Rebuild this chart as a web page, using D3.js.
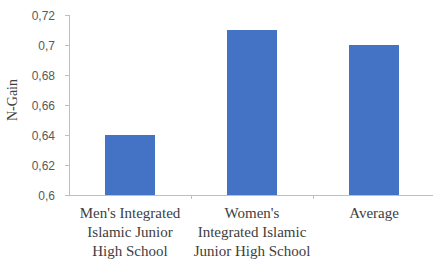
<!DOCTYPE html>
<html>
<head>
<meta charset="utf-8">
<script src="https://cdn.jsdelivr.net/npm/d3@7"></script>
<style>
	body { margin: 0; background: #fff; }
	.tickLabel { font-family: "Liberation Sans", Arial, sans-serif; font-size: 12px; fill: #595959; }
	.catLabel { font-family: "Liberation Serif", "Times New Roman", serif; font-size: 15px; fill: #404040; }
	.axisTitle { font-family: "Liberation Serif", "Times New Roman", serif; font-size: 14px; fill: #404040; }
</style>
</head>
<body>
<script>
//chart data
var categories = ["Men's Integrated Islamic Junior High School", "Women's Integrated Islamic Junior High School", "Average"];
var catLines = [["Men's Integrated", "Islamic Junior", "High School"], ["Women's", "Integrated Islamic", "Junior High School"], ["Average"]];
var nGain = [0.64, 0.71, 0.70];
var yTicks = [0.6, 0.62, 0.64, 0.66, 0.68, 0.7, 0.72];
var yTickLabels = ["0,6", "0,62", "0,64", "0,66", "0,68", "0,7", "0,72"];

//frame
var width = 433,
	height = 260,
	plotLeft = 69,
	plotRight = 435,
	plotTop = 15,
	plotBottom = 195;

var svg = d3.select("body")
	.append("svg")
	.attr("width", width)
	.attr("height", height);

var x = d3.scaleBand()
	.domain(categories)
	.range([plotLeft, plotRight])
	.paddingInner(0.59)
	.paddingOuter(0.295);

var y = d3.scaleLinear()
	.domain([0.6, 0.72])
	.range([plotBottom, plotTop]);

//bars
svg.selectAll(".bar")
	.data(nGain)
	.enter()
	.append("rect")
	.attr("class", "bar")
	.attr("x", function(d, i){ return x(categories[i]); })
	.attr("width", x.bandwidth())
	.attr("y", function(d){ return y(d); })
	.attr("height", function(d){ return y(0.6) - y(d); })
	.style("fill", "#4472C4");

//y axis
var yAxis = svg.append("g")
	.attr("transform", "translate(" + plotLeft + ",0)")
	.call(d3.axisLeft(y).tickValues(yTicks).tickSize(4).tickFormat(function(d, i){ return yTickLabels[i]; }));
yAxis.select(".domain").attr("stroke", "#bfbfbf").attr("d", "M0.5," + plotTop + "V" + plotBottom);
yAxis.selectAll(".tick line").attr("stroke", "#bfbfbf");
yAxis.selectAll(".tick text")
	.attr("class", "tickLabel")
	.attr("x", -14)
	.attr("dy", "0.35em");

//x axis
var gap = (x.step() - x.bandwidth()) / 2;
var xAxis = svg.append("g")
	.attr("transform", "translate(0," + plotBottom + ")");
xAxis.append("line")
	.attr("x1", plotLeft)
	.attr("x2", width)
	.attr("y1", 0.5)
	.attr("y2", 0.5)
	.attr("stroke", "#bfbfbf");
xAxis.selectAll(".xtick")
	.data(categories.slice(1))
	.enter()
	.append("line")
	.attr("x1", function(d){ return Math.round(x(d) - gap) + 0.5; })
	.attr("x2", function(d){ return Math.round(x(d) - gap) + 0.5; })
	.attr("y1", 0)
	.attr("y2", 4)
	.attr("stroke", "#bfbfbf");

//category labels
categories.forEach(function(c, i){
	var t = svg.append("text")
		.attr("class", "catLabel")
		.attr("text-anchor", "middle")
		.attr("x", x(c) + x.bandwidth() / 2)
		.attr("y", 218);
	catLines[i].forEach(function(line, j){
		t.append("tspan")
			.attr("x", x(c) + x.bandwidth() / 2)
			.attr("dy", j === 0 ? 0 : 19)
			.text(line);
	});
});

//y title
svg.append("text")
	.attr("class", "axisTitle")
	.attr("text-anchor", "middle")
	.attr("transform", "translate(17,100) rotate(-90)")
	.text("N-Gain");
</script>
</body>
</html>
